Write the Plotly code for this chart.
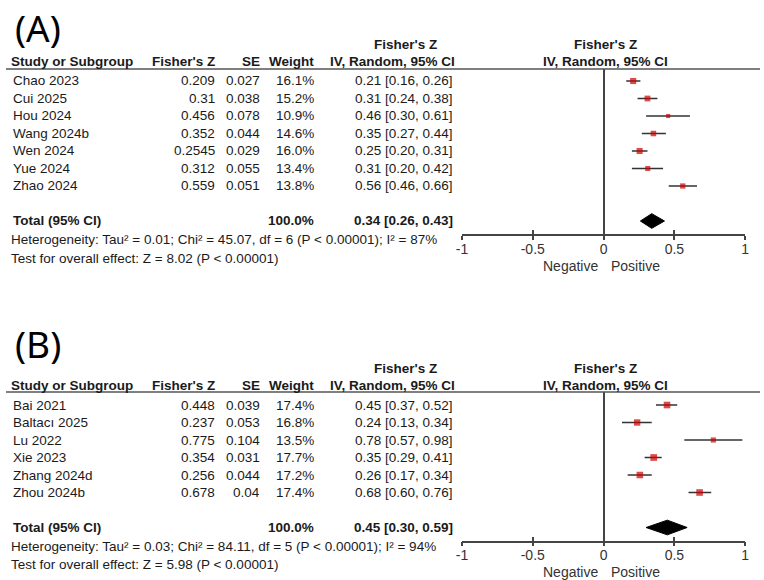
import plotly.graph_objects as go

W, H = 764, 580

# ---------------- data ----------------
a_study = ["Chao 2023", "Cui 2025", "Hou 2024", "Wang 2024b", "Wen 2024", "Yue 2024", "Zhao 2024"]
a_z = [0.209, 0.31, 0.456, 0.352, 0.2545, 0.312, 0.559]
a_se = [0.027, 0.038, 0.078, 0.044, 0.029, 0.055, 0.051]
a_w = [16.1, 15.2, 10.9, 14.6, 16.0, 13.4, 13.8]
a_lo = [0.16, 0.24, 0.30, 0.27, 0.20, 0.20, 0.46]
a_hi = [0.26, 0.38, 0.61, 0.44, 0.31, 0.42, 0.66]
a_total = [0.34, 0.26, 0.43]
a_het = "Heterogeneity: Tau² = 0.01; Chi² = 45.07, df = 6 (P < 0.00001); I² = 87%"
a_test = "Test for overall effect: Z = 8.02 (P < 0.00001)"

b_study = ["Bai 2021", "Baltacı 2025", "Lu 2022", "Xie 2023", "Zhang 2024d", "Zhou 2024b"]
b_z = [0.448, 0.237, 0.775, 0.354, 0.256, 0.678]
b_se = [0.039, 0.053, 0.104, 0.031, 0.044, 0.04]
b_w = [17.4, 16.8, 13.5, 17.7, 17.2, 17.4]
b_lo = [0.37, 0.13, 0.57, 0.29, 0.17, 0.60]
b_hi = [0.52, 0.34, 0.98, 0.41, 0.34, 0.76]
b_total = [0.45, 0.30, 0.59]
b_het = "Heterogeneity: Tau² = 0.03; Chi² = 84.11, df = 5 (P < 0.00001); I² = 94%"
b_test = "Test for overall effect: Z = 5.98 (P < 0.00001)"

tick_vals = [-1, -0.5, 0, 0.5, 1]
tick_text = ["-1", "-0.5", "0", "0.5", "1"]

# ---------------- styling ----------------
FONT = "Liberation Sans, Arial, sans-serif"
TXT = "#1a1a1a"
LINE = "#444444"
RED = "#cc0000"
FS = 13.5

def px(x):
    return x / W

def py(y):
    return 1 - y / H

fig = go.Figure()
annotations = []
shapes = []

panels = [
    dict(lab="(A)", study=a_study, z=a_z, se=a_se, w=a_w, lo=a_lo, hi=a_hi, tot=a_total,
         het=a_het, test=a_test, lab_y=27, h1=45, h2=62, line_y=69, row0=81, np_off=32,
         xa="x", ya="y", xo="x3", yname="yaxis", xname="xaxis", xoname="xaxis3"),
    dict(lab="(B)", study=b_study, z=b_z, se=b_se, w=b_w, lo=b_lo, hi=b_hi, tot=b_total,
         het=b_het, test=b_test, lab_y=343, h1=368, h2=385, line_y=392, row0=405, np_off=31,
         xa="x2", ya="y2", xo="x4", yname="yaxis2", xname="xaxis2", xoname="xaxis4"),
]

STEP = 17.5
X_LEFT, X_RIGHT = 462.0, 749.0

layout_axes = {}
for p in panels:
    n = len(p["study"])
    rows = list(range(n))
    trow = n + 1
    row0 = p["row0"]
    line_y = p["line_y"]
    total_y = row0 + trow * STEP
    axis_y = total_y + 13
    het_y = total_y + 19
    test_y = total_y + 37
    np_y = axis_y + p["np_off"]
    r_top = (line_y - row0) / STEP
    r_bot = (axis_y - row0) / STEP

    # study whiskers + boxes
    fig.add_trace(go.Scatter(
        x=p["z"], y=rows, xaxis=p["xa"], yaxis=p["ya"], mode="markers",
        marker=dict(symbol="square", color=RED, size=[0.38 * w for w in p["w"]], line=dict(width=0)),
        error_x=dict(type="data", symmetric=False,
                     array=[h - z for h, z in zip(p["hi"], p["z"])],
                     arrayminus=[z - l for z, l in zip(p["z"], p["lo"])],
                     color="#333333", thickness=1.4, width=0),
        hoverinfo="skip", showlegend=False, cliponaxis=False))

    # total diamond
    est, lo, hi = p["tot"]
    dh = 0.42
    fig.add_trace(go.Scatter(
        x=[lo, est, hi, est, lo], y=[trow, trow - dh, trow, trow + dh, trow],
        xaxis=p["xa"], yaxis=p["ya"], mode="lines", fill="toself",
        fillcolor="black", line=dict(color="black", width=1),
        hoverinfo="skip", showlegend=False))

    dom_y = [py(axis_y), py(line_y)]
    dom_x = [px(X_LEFT), px(X_RIGHT)]
    layout_axes[p["yname"]] = dict(domain=dom_y, range=[r_bot, r_top], visible=False, fixedrange=True)
    layout_axes[p["xname"]] = dict(
        domain=dom_x, anchor=p["ya"], range=[-1, 1], showgrid=False,
        showline=True, linecolor=LINE, linewidth=1.5,
        ticks="outside", ticklen=4, tickwidth=1.5, tickcolor=LINE,
        tickvals=tick_vals, ticktext=tick_text, ticklabelstandoff=-3,
        tickfont=dict(family=FONT, size=14, color="#333333"),
        zeroline=True, zerolinecolor=LINE, zerolinewidth=1.5, fixedrange=True)
    layout_axes[p["xoname"]] = dict(
        domain=dom_x, anchor=p["ya"], overlaying=p["xa"], range=[-1, 1], showgrid=False,
        showline=False, ticks="inside", ticklen=4, tickwidth=1.5, tickcolor=LINE,
        tickvals=tick_vals, showticklabels=False, zeroline=False, fixedrange=True)
    fig.add_trace(go.Scatter(x=[None], y=[None], xaxis=p["xo"], yaxis=p["ya"],
                             mode="markers", showlegend=False, hoverinfo="skip"))

    # header line across width
    shapes.append(dict(type="line", xref="paper", yref="paper", x0=0, x1=1,
                       y0=py(line_y), y1=py(line_y), line=dict(color="#555555", width=1.5)))

    # panel label
    annotations.append(dict(text=p["lab"], xref="paper", yref="paper", x=px(7), y=py(p["lab_y"]),
                            xanchor="left", yanchor="middle", showarrow=False,
                            font=dict(family="Noto Sans, sans-serif", size=37, color="black")))

    def hdr(text, x, y, anchor):
        annotations.append(dict(text="<b>%s</b>" % text, xref="paper", yref="paper", x=px(x), y=py(y),
                                xanchor=anchor, yanchor="middle", showarrow=False,
                                font=dict(family=FONT, size=FS, color=TXT)))

    h1 = p["h1"]
    h2 = p["h2"]
    hdr("Fisher's Z", 405, h1, "center")
    hdr("Fisher's Z", 607, h1, "center")
    hdr("Study or Subgroup", 3, h2, "left")
    hdr("Fisher's Z", 214, h2, "right")
    hdr("SE", 259, h2, "right")
    hdr("Weight", 314, h2, "right")
    hdr("IV, Random, 95% CI", 457, h2, "right")
    hdr("IV, Random, 95% CI", 607, h2, "center")

    def cell(text, x, r, anchor, bold=False):
        annotations.append(dict(text=("<b>%s</b>" % text) if bold else text,
                                xref="paper", yref=p["ya"], x=px(x), y=r,
                                xanchor=anchor, yanchor="middle", showarrow=False,
                                font=dict(family=FONT, size=FS, color=TXT)))

    for i in rows:
        cell(p["study"][i], 5, i, "left")
        cell(str(p["z"][i]), 214, i, "right")
        cell(str(p["se"][i]), 259, i, "right")
        cell("%.1f%%" % p["w"][i], 314, i, "right")
        cell("%.2f [%.2f, %.2f]" % (p["z"][i], p["lo"][i], p["hi"][i]), 455, i, "right")

    cell("Total (95% CI)", 5, trow, "left", bold=True)
    cell("%.1f%%" % sum(p["w"]), 314, trow, "right", bold=True)
    cell("%.2f [%.2f, %.2f]" % tuple(p["tot"]), 455, trow, "right", bold=True)

    annotations.append(dict(text=p["het"], xref="paper", yref="paper", x=px(3), y=py(het_y),
                            xanchor="left", yanchor="middle", showarrow=False,
                            font=dict(family=FONT, size=FS, color=TXT)))
    annotations.append(dict(text=p["test"], xref="paper", yref="paper", x=px(3), y=py(test_y),
                            xanchor="left", yanchor="middle", showarrow=False,
                            font=dict(family=FONT, size=FS, color=TXT)))

    # Negative / Positive labels
    annotations.append(dict(text="Negative", xref=p["xa"], yref="paper", x=0, y=py(np_y),
                            xanchor="right", yanchor="middle", xshift=-4, showarrow=False,
                            font=dict(family=FONT, size=14, color="#333333")))
    annotations.append(dict(text="Positive", xref=p["xa"], yref="paper", x=0, y=py(np_y),
                            xanchor="left", yanchor="middle", xshift=5, showarrow=False,
                            font=dict(family=FONT, size=14, color="#333333")))

fig.update_layout(
    width=W, height=H, margin=dict(l=0, r=0, t=0, b=0),
    paper_bgcolor="white", plot_bgcolor="white",
    annotations=annotations, shapes=shapes, showlegend=False,
    **layout_axes)

fig.write_html("out.html")
